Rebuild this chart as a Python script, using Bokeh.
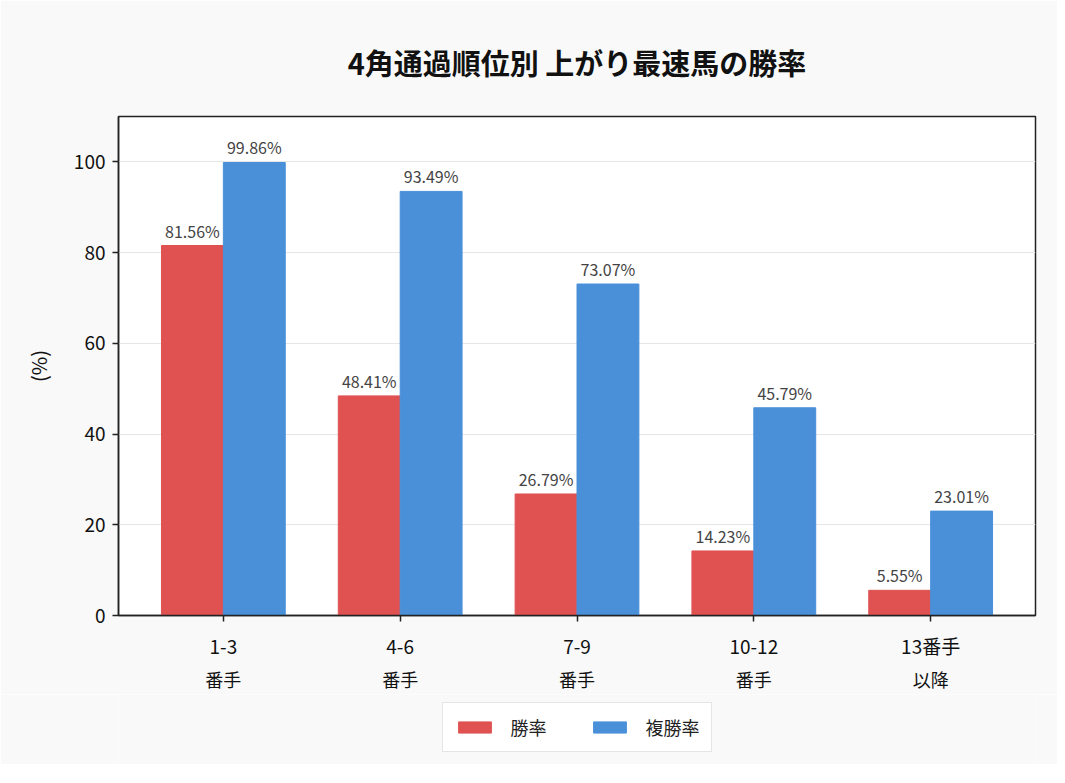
from bokeh.plotting import figure
from bokeh.layouts import column
from bokeh.models import (ColumnDataSource, LabelSet, Legend, LegendItem, FixedTicker,
                          Range1d, LinearAxis)
from bokeh.core.properties import value
from bokeh.embed import file_html
from bokeh.resources import INLINE

cat_line1 = ["1-3", "4-6", "7-9", "10-12", "13番手"]
cat_line2 = ["番手", "番手", "番手", "番手", "以降"]
win_rate = [81.56, 48.41, 26.79, 14.23, 5.55]
place_rate = [99.86, 93.49, 73.07, 45.79, 23.01]
series_names = ["勝率", "複勝率"]

FONT = "Noto Sans CJK JP"
BG = "#f9f9f9"
RED = "#e05252"
BLUE = "#4a90d9"
bar_w = 0.35

xs = list(range(len(cat_line1)))
src = ColumnDataSource(dict(
    x_win=[x - bar_w / 2 for x in xs],
    x_place=[x + bar_w / 2 for x in xs],
    win=win_rate,
    place=place_rate,
    win_lbl=[f"{v:.2f}%" for v in win_rate],
    place_lbl=[f"{v:.2f}%" for v in place_rate],
))

p = figure(frame_width=917, frame_height=499, output_backend="svg", toolbar_location=None,
           x_range=Range1d(-0.593, 4.593), y_range=Range1d(0, 110),
           min_border_left=118, min_border_right=22, min_border_top=116,
           min_border_bottom=4)
p.background_fill_color = "white"
p.border_fill_color = BG
p.outline_line_color = "#222222"
p.outline_line_width = 1.5

p.title.text = "4角通過順位別 上がり最速馬の勝率"
p.title.align = "center"
p.title.text_font = FONT
p.title.text_font_size = "29px"
p.title.text_font_style = "bold"
p.title.text_color = "#111111"
p.title.standoff = 68

p.vbar(x="x_win", top="win", width=bar_w, source=src, color=RED)
p.vbar(x="x_place", top="place", width=bar_w, source=src, color=BLUE)

for x, top, t in (("x_win", "win", "win_lbl"), ("x_place", "place", "place_lbl")):
    p.add_layout(LabelSet(x=x, y=top, text=t, source=src, y_offset=3,
                          text_align="center", text_baseline="bottom",
                          text_font=value(FONT), text_font_size="16px",
                          text_color="#444444"))

p.xaxis.ticker = FixedTicker(ticks=xs)
p.xaxis.major_label_overrides = {i: c for i, c in enumerate(cat_line1)}
p.yaxis.ticker = FixedTicker(ticks=[0, 20, 40, 60, 80, 100])
for ax in (p.xaxis, p.yaxis):
    ax.axis_line_color = "#222222"
    ax.axis_line_width = 1.5
    ax.major_tick_line_color = "#222222"
    ax.major_tick_line_width = 1.5
    ax.major_tick_out = 6
    ax.major_tick_in = 0
    ax.minor_tick_line_color = None
    ax.major_label_text_font = FONT
    ax.major_label_text_font_size = "19px"
    ax.major_label_text_color = "#111111"
p.xaxis.major_label_standoff = 10
p.yaxis.major_label_standoff = 7
p.yaxis.axis_label = "(%)"
p.yaxis.axis_label_text_font = FONT
p.yaxis.axis_label_text_font_size = "20px"
p.yaxis.axis_label_text_font_style = "normal"
p.yaxis.axis_label_text_color = "#111111"
p.yaxis.axis_label_standoff = 18

# second line of the category labels
ax2 = LinearAxis(ticker=FixedTicker(ticks=xs),
                 major_label_overrides={i: c for i, c in enumerate(cat_line2)})
ax2.axis_line_color = None
ax2.major_tick_line_color = None
ax2.minor_tick_line_color = None
ax2.major_tick_out = 0
ax2.major_tick_in = 0
ax2.major_label_standoff = 4
ax2.major_label_text_font = FONT
ax2.major_label_text_font_size = "18px"
ax2.major_label_text_color = "#111111"
p.add_layout(ax2, "below")

p.xgrid.grid_line_color = None
p.ygrid.grid_line_color = "#e6e6e6"
p.ygrid.grid_line_width = 1

# legend strip under the chart (swatch glyphs lie far outside its ranges)
leg = figure(width=1057, height=70, output_backend="svg", toolbar_location=None,
             min_border=0, x_range=Range1d(0, 1), y_range=Range1d(0, 1))
leg.axis.visible = False
leg.grid.grid_line_color = None
leg.outline_line_color = None
leg.background_fill_color = BG
leg.border_fill_color = BG
d_win = leg.vbar(x=[-50], top=[-50], bottom=[-51], width=0.1, color=RED)
d_place = leg.vbar(x=[-50], top=[-50], bottom=[-51], width=0.1, color=BLUE)

legend = Legend(items=[LegendItem(label=series_names[0], renderers=[d_win]),
                       LegendItem(label=series_names[1], renderers=[d_place])],
                orientation="horizontal", location="top_center")
legend.label_text_font = FONT
legend.label_text_font_size = "18px"
legend.label_text_color = "#222222"
legend.label_standoff = 16
legend.glyph_width = 41
legend.glyph_height = 14
legend.spacing = 42
legend.padding = 11
legend.margin = 8
legend.border_line_color = "#cccccc"
legend.border_line_width = 1.5
legend.background_fill_color = "white"
leg.add_layout(legend)

open("out.html", "w").write(file_html(column(p, leg), INLINE))
